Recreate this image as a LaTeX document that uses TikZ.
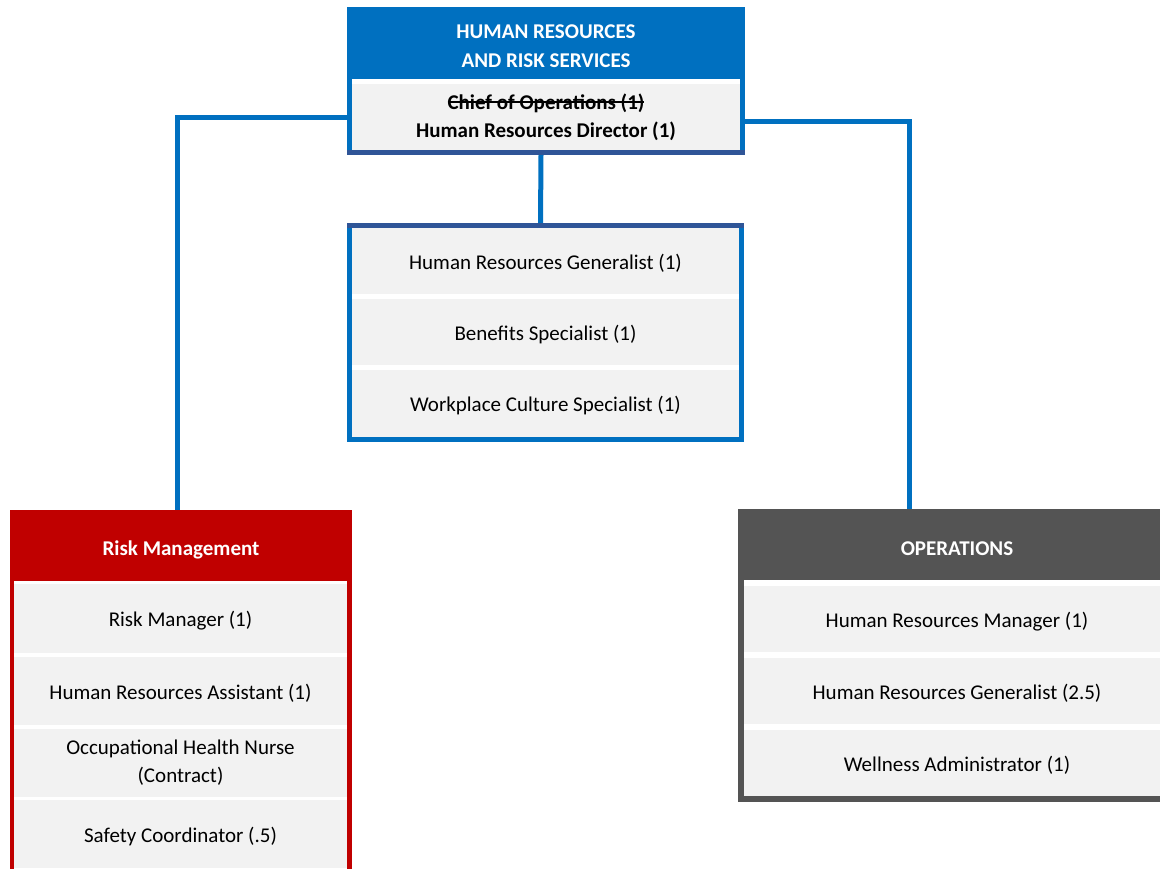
\documentclass[tikz,border=0pt]{standalone}
\usepackage{fontspec}
\setmainfont{Carlito}
\usetikzlibrary{backgrounds}
\definecolor{hrblue}{HTML}{0070C0}
\definecolor{navy}{HTML}{2F5597}
\definecolor{cellgray}{HTML}{F2F2F2}
\definecolor{riskred}{HTML}{C00000}
\definecolor{opsgray}{HTML}{545454}
% struck-through text: the text, with a rule across it at mid x-height
\newsavebox\strikebox
\newcommand\strikeout[1]{\sbox\strikebox{#1}\rlap{\usebox\strikebox}\rule[0.3em]{\wd\strikebox}{1.6pt}}
\begin{document}
\begin{tikzpicture}[x=1pt,y=-1pt,
  box/.style={anchor=north west, inner sep=0pt, outer sep=0pt, draw=none},
  cell/.style={box, fill=cellgray, align=center, text=black,
    font=\fontsize{21}{28}\selectfont,
    execute at begin node={\rule{0pt}{20pt}}},
  head/.style={align=center, text=white, inner sep=0pt,
    font=\fontsize{21}{29}\selectfont\bfseries},
  conn/.style={draw=hrblue, line width=5pt}]
\useasboundingbox (0,0) rectangle (1160,868);

% --- department head ---
\node[box, fill=hrblue, minimum width=398, minimum height=148] (hr) at (347,7) {};
\node[box, fill=white, minimum width=388, minimum height=71] (hrgap) at (352,79) {};
\node[cell, minimum width=388, minimum height=66, font=\fontsize{21}{28}\selectfont\bfseries]
  (hrdir) at (352,84) {\strikeout{Chief of Operations (1)}\\Human Resources Director (1)};
\node[box, fill=navy, minimum width=398, minimum height=5] (hrbase) at (347,150) {};
\node[head] (hrtitle) at (546,46.5) {HUMAN RESOURCES\\AND RISK SERVICES};

% --- central staff ---
\node[box, fill=hrblue, minimum width=397, minimum height=219] (staff) at (347,223) {};
\node[box, fill=white, minimum width=387, minimum height=209] (staffin) at (352,228) {};
\node[box, fill=navy, minimum width=397, minimum height=5] (staffcap) at (347,223) {};
\node[cell, minimum width=387, minimum height=66] (s1) at (352,228) {Human Resources Generalist (1)};
\node[cell, minimum width=387, minimum height=66] (s2) at (352,299) {Benefits Specialist (1)};
\node[cell, minimum width=387, minimum height=67] (s3) at (352,370) {Workplace Culture Specialist (1)};

% --- risk management ---
\node[box, fill=riskred, minimum width=342, minimum height=370] (risk) at (10,510) {};
\node[box, fill=white, minimum width=333, minimum height=300] (riskin) at (14,581) {};
\node[head] (risktitle) at (181,550) {Risk Management};
\node[cell, minimum width=333, minimum height=69] (r1) at (14,584) {Risk Manager (1)};
\node[cell, minimum width=333, minimum height=68] (r2) at (14,657) {Human Resources Assistant (1)};
\node[cell, minimum width=333, minimum height=68] (r3) at (14,729) {Occupational Health Nurse\\(Contract)};
\node[cell, minimum width=333, minimum height=68] (r4) at (14,800) {Safety Coordinator (.5)};

% --- operations ---
\node[box, fill=opsgray, minimum width=438, minimum height=293] (ops) at (738,509) {};
\node[box, fill=white, minimum width=426, minimum height=216] (opsin) at (744,580) {};
\node[head] (opstitle) at (957,549) {OPERATIONS};
\node[cell, minimum width=426, minimum height=66] (o1) at (744,586) {Human Resources Manager (1)};
\node[cell, minimum width=426, minimum height=66] (o2) at (744,658) {Human Resources Generalist (2.5)};
\node[cell, minimum width=426, minimum height=66] (o3) at (744,730) {Wellness Administrator (1)};

% --- reporting lines ---
\begin{scope}[on background layer]
  \draw[conn] (hrdir.west) -| ([xshift=-4pt]risk.north);
  \draw[conn] ([yshift=-4pt]hrdir.east) -| ([xshift=-47.5pt]ops.north);
  \draw[conn] ([xshift=-5pt]hrbase.south) -- ([xshift=-5pt]staffcap.north);
\end{scope}
\end{tikzpicture}
\end{document}
